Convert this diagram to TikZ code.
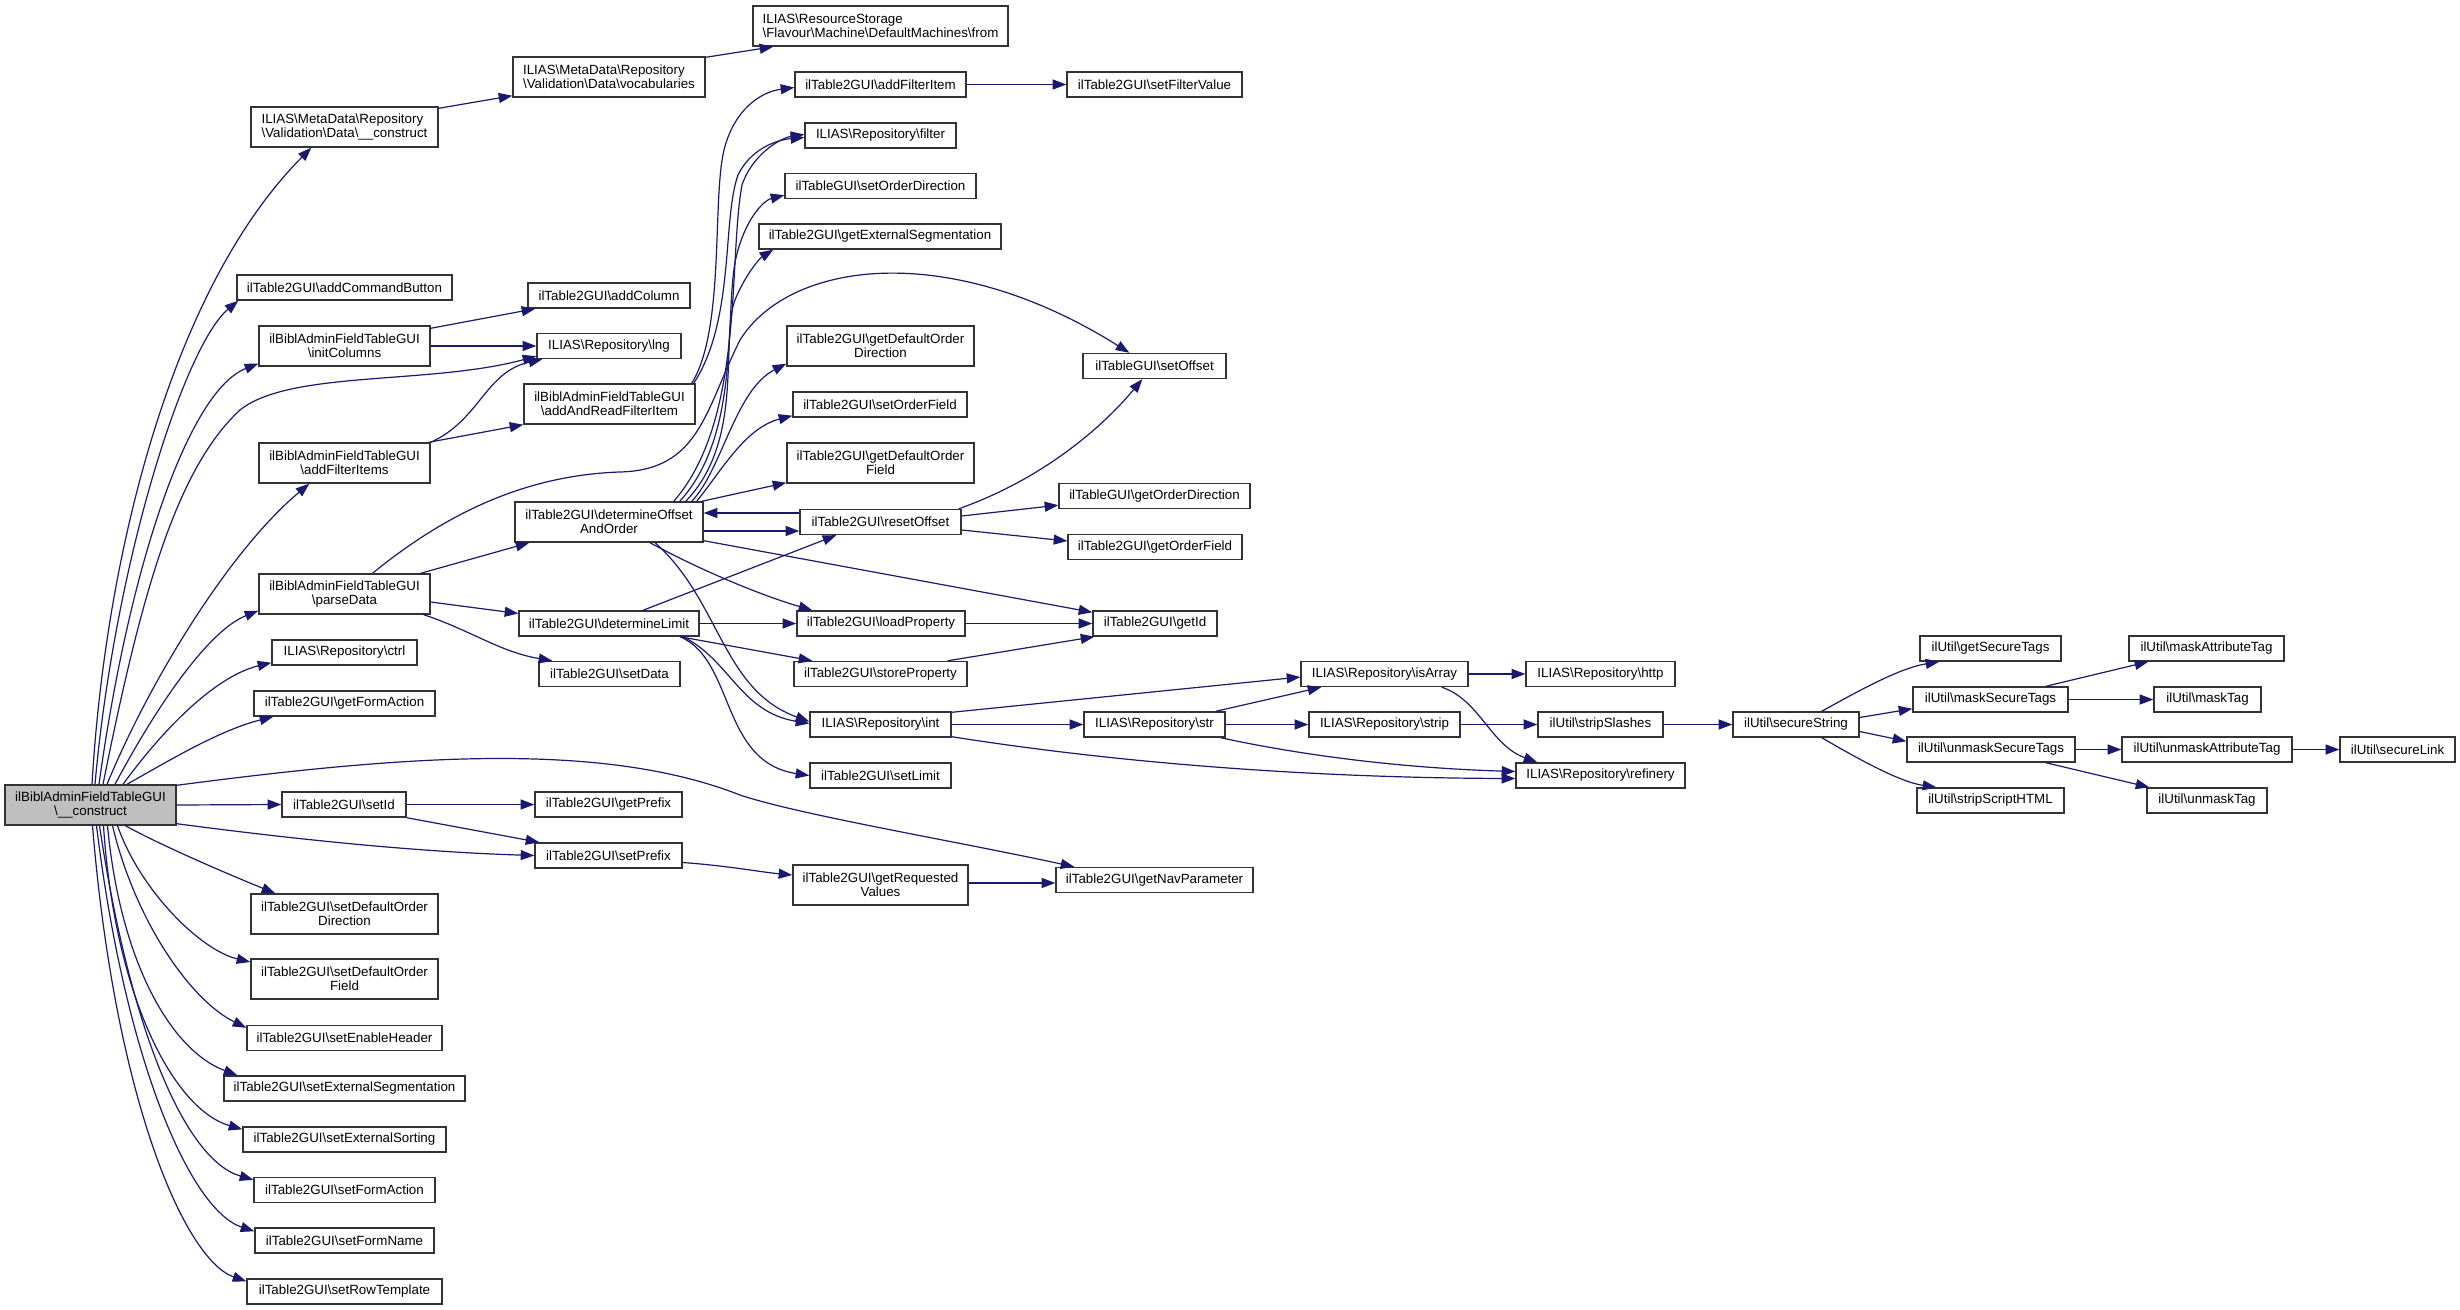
\documentclass[tikz,border=0pt]{standalone}
\usepackage{fontspec}
\setmainfont{Liberation Sans}
\usetikzlibrary{arrows.meta,calc}
\definecolor{navyc}{HTML}{191970}
\definecolor{mainfill}{HTML}{BFBFBF}
\newcommand\bksl{\textbackslash}
\tikzset{
  box/.style={draw=black!80, fill=white, line width=0.7pt, inner sep=0pt,
    minimum height=12.5pt, font=\fontsize{6.67}{7}\selectfont, align=center},
  tall/.style={minimum height=20pt},
  edge/.style={draw=navyc, line width=0.6pt, -{Triangle[length=6.8pt,width=5pt]}},
}
\begin{document}
\begin{tikzpicture}[x=0.5pt,y=-0.5pt]
\fill[white] (0,0) rectangle (2460,1310);
\useasboundingbox (0,0) rectangle (2460,1310);
% column 1
\node[box,tall,fill=mainfill,minimum width=85.5pt] (main) at (90.5,805) {ilBiblAdminFieldTableGUI\\\bksl\_\_construct};
% column 2
\node[box,tall,align=left,minimum width=93.5pt] (mdc) at (344.5,127) {ILIAS\bksl MetaData\bksl Repository\\\bksl Validation\bksl Data\bksl\_\_construct};
\node[box,minimum width=107.5pt] (acb) at (344.5,287.5) {ilTable2GUI\bksl addCommandButton};
\node[box,tall,minimum width=85.5pt] (initcol) at (344.5,346) {ilBiblAdminFieldTableGUI\\\bksl initColumns};
\node[box,tall,minimum width=85.5pt] (afi) at (344.5,463) {ilBiblAdminFieldTableGUI\\\bksl addFilterItems};
\node[box,tall,minimum width=85.5pt] (parse) at (344.5,594) {ilBiblAdminFieldTableGUI\\\bksl parseData};
\node[box,minimum width=72.5pt] (ctrl) at (344.5,652.5) {ILIAS\bksl Repository\bksl ctrl};
\node[box,minimum width=90.5pt] (gfa) at (344.5,703.5) {ilTable2GUI\bksl getFormAction};
\node[box,minimum width=62pt] (setid) at (344,804.5) {ilTable2GUI\bksl setId};
\node[box,tall,minimum width=93.5pt] (sdod) at (344.5,914) {ilTable2GUI\bksl setDefaultOrder\\Direction};
\node[box,tall,minimum width=93.5pt] (sdof) at (344.5,979) {ilTable2GUI\bksl setDefaultOrder\\Field};
\node[box,minimum width=97.5pt] (seh) at (344.5,1038) {ilTable2GUI\bksl setEnableHeader};
\node[box,minimum width=120.5pt] (ses) at (344.5,1088.5) {ilTable2GUI\bksl setExternalSegmentation};
\node[box,minimum width=101.5pt] (sesort) at (344.5,1139.5) {ilTable2GUI\bksl setExternalSorting};
\node[box,minimum width=90.5pt] (sfa) at (344.5,1190) {ilTable2GUI\bksl setFormAction};
\node[box,minimum width=89.5pt] (sfn) at (344.5,1240.5) {ilTable2GUI\bksl setFormName};
\node[box,minimum width=97.5pt] (srt) at (344.5,1291.5) {ilTable2GUI\bksl setRowTemplate};
% column 3
\node[box,tall,align=left,minimum width=96pt] (voc) at (609,77) {ILIAS\bksl MetaData\bksl Repository\\\bksl Validation\bksl Data\bksl vocabularies};
\node[box,minimum width=81pt] (addcol) at (609,295.5) {ilTable2GUI\bksl addColumn};
\node[box,minimum width=72pt] (lng) at (609,346) {ILIAS\bksl Repository\bksl lng};
\node[box,tall,minimum width=85.5pt] (aarfi) at (609.5,404) {ilBiblAdminFieldTableGUI\\\bksl addAndReadFilterItem};
\node[box,tall,minimum width=94pt] (doao) at (609,522) {ilTable2GUI\bksl determineOffset\\AndOrder};
\node[box,minimum width=90pt] (dlim) at (609,623.5) {ilTable2GUI\bksl determineLimit};
\node[box,minimum width=70.5pt] (setdata) at (609.5,674) {ilTable2GUI\bksl setData};
\node[box,minimum width=73.5pt] (getprefix) at (608.5,804.5) {ilTable2GUI\bksl getPrefix};
\node[box,minimum width=73.5pt] (setprefix) at (608.5,855.5) {ilTable2GUI\bksl setPrefix};
% column 4
\node[box,tall,align=left,minimum width=127.5pt] (from) at (880.5,26) {ILIAS\bksl ResourceStorage\\\bksl Flavour\bksl Machine\bksl DefaultMachines\bksl from};
\node[box,minimum width=85.5pt] (addfi) at (880.5,84.5) {ilTable2GUI\bksl addFilterItem};
\node[box,minimum width=75.5pt] (filter) at (880.5,135.5) {ILIAS\bksl Repository\bksl filter};
\node[box,minimum width=95.5pt] (sod) at (880.5,186) {ilTableGUI\bksl setOrderDirection};
\node[box,minimum width=121pt] (ges) at (880,236.5) {ilTable2GUI\bksl getExternalSegmentation};
\node[box,tall,minimum width=93.5pt] (gdod) at (880.5,346) {ilTable2GUI\bksl getDefaultOrder\\Direction};
\node[box,minimum width=87pt] (sof) at (880,404.5) {ilTable2GUI\bksl setOrderField};
\node[box,tall,minimum width=93.5pt] (gdof) at (880.5,463) {ilTable2GUI\bksl getDefaultOrder\\Field};
\node[box,minimum width=80.5pt] (reset) at (880.5,522) {ilTable2GUI\bksl resetOffset};
\node[box,minimum width=84pt] (loadp) at (881,623.5) {ilTable2GUI\bksl loadProperty};
\node[box,minimum width=86.5pt] (storep) at (880.5,674) {ilTable2GUI\bksl storeProperty};
\node[box,minimum width=70.5pt] (int) at (880.5,724.5) {ILIAS\bksl Repository\bksl int};
\node[box,minimum width=70.5pt] (setlimit) at (880.5,775.5) {ilTable2GUI\bksl setLimit};
\node[box,tall,minimum width=87.5pt] (grv) at (880.5,885) {ilTable2GUI\bksl getRequested\\Values};
% column 5
\node[box,minimum width=87.5pt] (sfv) at (1154.5,84.5) {ilTable2GUI\bksl setFilterValue};
\node[box,minimum width=71.5pt] (setoffset) at (1154.5,366) {ilTableGUI\bksl setOffset};
\node[box,minimum width=95.5pt] (god) at (1154.5,496) {ilTableGUI\bksl getOrderDirection};
\node[box,minimum width=87pt] (gof) at (1155,547) {ilTable2GUI\bksl getOrderField};
\node[box,minimum width=62pt] (getid) at (1155,623.5) {ilTable2GUI\bksl getId};
\node[box,minimum width=70.5pt] (str) at (1154.5,724.5) {ILIAS\bksl Repository\bksl str};
\node[box,minimum width=98.5pt] (gnp) at (1154.5,880) {ilTable2GUI\bksl getNavParameter};
% column 6
\node[box,minimum width=83.5pt] (isarray) at (1384.5,674) {ILIAS\bksl Repository\bksl isArray};
\node[box,minimum width=75.5pt] (strip) at (1384.5,724.5) {ILIAS\bksl Repository\bksl strip};
% column 7
\node[box,minimum width=74.5pt] (http) at (1600.5,674) {ILIAS\bksl Repository\bksl http};
\node[box,minimum width=62.5pt] (stripslashes) at (1600.5,724.5) {ilUtil\bksl stripSlashes};
\node[box,minimum width=84.5pt] (refinery) at (1600.5,775.5) {ILIAS\bksl Repository\bksl refinery};
% column 8
\node[box,minimum width=63pt] (securestring) at (1796,724.5) {ilUtil\bksl secureString};
% column 9
\node[box,minimum width=70.5pt] (gst) at (1990.5,648.5) {ilUtil\bksl getSecureTags};
\node[box,minimum width=77.5pt] (mst) at (1990.5,699.5) {ilUtil\bksl maskSecureTags};
\node[box,minimum width=84pt] (ust) at (1991,749.5) {ilUtil\bksl unmaskSecureTags};
\node[box,minimum width=73.5pt] (ssh) at (1990.5,800.5) {ilUtil\bksl stripScriptHTML};
% column 10
\node[box,minimum width=77.5pt] (mat) at (2206.5,648.5) {ilUtil\bksl maskAttributeTag};
\node[box,minimum width=53.5pt] (masktag) at (2207.5,699.5) {ilUtil\bksl maskTag};
\node[box,minimum width=85pt] (uat) at (2207,749.5) {ilUtil\bksl unmaskAttributeTag};
\node[box,minimum width=60pt] (unmasktag) at (2207,800.5) {ilUtil\bksl unmaskTag};
% column 11
\node[box,minimum width=57.5pt] (securelink) at (2397.5,749.5) {ilUtil\bksl secureLink};

% ---- edges from main
\draw[edge] ($(main.north)+(1.5,0)$) .. controls (105,560) and (170,290) .. ($(mdc.south west)+(61,0)$);
\draw[edge] ($(main.north)+(4.5,0)$) .. controls (115,560) and (185,345) .. ($(acb.south west)+(2,0)$);
\draw[edge] ($(main.north)+(8.5,0)$) .. controls (130,560) and (190,390) .. ($(initcol.south west)+(0,-3)$);
\draw[edge] ($(main.north)+(12.5,0)$) .. controls (140,600) and (175,470) .. (240,410) .. controls (290,370) and (430,385) .. ($(lng.south west)+(0,-3)$);
\draw[edge] ($(main.north)+(16.5,0)$) .. controls (150,680) and (230,550) .. ($(afi.south west)+(51,0)$);
\draw[edge] ($(main.north)+(24.5,0)$) .. controls (160,700) and (210,630) .. ($(parse.south west)+(0,-4)$);
\draw[edge] ($(main.north)+(32.5,0)$) .. controls (170,720) and (220,675) .. ($(ctrl.south west)+(0,-3)$);
\draw[edge] ($(main.north)+(36.5,0)$) .. controls (170,760) and (220,730) .. ($(gfa.south west)+(20,0)$);
\draw[edge] ($(main.north east)+(0,1)$) .. controls (400,756) and (600,740) .. (740,795) .. controls (800,815) and (950,840) .. ($(gnp.north west)+(19,0)$);
\draw[edge] (main.east) -- (setid.west);
\draw[edge] ($(main.south east)+(0,-2)$) .. controls (300,840) and (420,852) .. (setprefix.west);
\draw[edge] ($(main.south)+(35,0)$) .. controls (160,845) and (230,875) .. ($(sdod.north west)+(25,0)$);
\draw[edge] ($(main.south)+(27,0)$) .. controls (140,890) and (200,950) .. ($(sdof.west)+(0,-17)$);
\draw[edge] ($(main.south)+(22,0)$) .. controls (135,920) and (190,1000) .. ($(seh.north west)+(0,3)$);
\draw[edge] ($(main.south)+(17,0)$) .. controls (120,960) and (170,1050) .. ($(ses.north west)+(14,0)$);
\draw[edge] ($(main.south)+(13,0)$) .. controls (115,1000) and (175,1110) .. ($(sesort.north west)+(0,3)$);
\draw[edge] ($(main.south)+(9,0)$) .. controls (130,1030) and (185,1160) .. ($(sfa.north west)+(0,3)$);
\draw[edge] ($(main.south)+(6,0)$) .. controls (125,1060) and (190,1210) .. ($(sfn.north west)+(0,4)$);
\draw[edge] ($(main.south)+(2,0)$) .. controls (115,1100) and (185,1260) .. ($(srt.north west)+(0,3)$);

% ---- upper part
\draw[edge] ($(mdc.north east)+(0,2)$) -- ($(voc.south west)+(0,-2)$);
\draw[edge] ($(voc.north east)+(0,1)$) -- ($(from.south west)+(21,0)$);
\draw[edge] ($(initcol.north east)+(0,3)$) -- ($(addcol.south west)+(8,0)$);
\draw[edge] (initcol.east) -- (lng.west);
\draw[edge] (afi.north east) .. controls (480,420) and (485,372) .. ($(lng.south west)+(6,0)$);
\draw[edge] ($(afi.north east)+(-2,0)$) -- (aarfi.south west);
\draw[edge] ($(aarfi.north east)+(-4,0)$) .. controls (725,330) and (712,200) .. (724,150) .. controls (734,110) and (760,92) .. ($(addfi.west)+(0,3)$);
\draw[edge] ($(aarfi.north east)+(-2,0)$) .. controls (735,320) and (722,220) .. (738,175) .. controls (750,150) and (775,140) .. ($(filter.west)+(0,2)$);
\draw[edge] (addfi.east) -- (sfv.west);

% ---- determineOffsetAndOrder
\draw[edge] ($(doao.north east)+(-30,0)$) .. controls (745,420) and (728,260) .. (742,185) .. controls (752,155) and (780,138) .. ($(filter.west)+(0,-1)$);
\draw[edge] ($(doao.north east)+(-24,0)$) .. controls (745,430) and (722,300) .. (738,250) .. controls (748,215) and (765,200) .. ($(sod.south west)+(0,-4)$);
\draw[edge] ($(doao.north east)+(-18,0)$) .. controls (745,440) and (720,340) .. (735,300) .. controls (745,275) and (760,258) .. ($(ges.south west)+(15,0)$);
\draw[edge] ($(doao.north east)+(-12,0)$) .. controls (722,470) and (735,390) .. ($(gdod.south west)+(0,-3)$);
\draw[edge] ($(doao.north east)+(-7,0)$) .. controls (722,470) and (745,428) .. ($(sof.south west)+(0,-2)$);
\draw[edge] ($(doao.north east)+(-2,0)$) -- ($(gdof.south west)+(0,-1)$);
\draw[edge] ($(reset.west)+(0,-9)$) -- ($(doao.east)+(0,-9)$);
\draw[edge] ($(doao.east)+(0,9)$) -- ($(reset.west)+(0,9)$);
\draw[edge] ($(doao.south east)+(0,-2)$) -- ($(getid.north west)+(0,2)$);
\draw[edge] ($(doao.south)+(41,0)$) .. controls (700,570) and (760,595) .. ($(loadp.north west)+(16,0)$);
\draw[edge] ($(doao.south)+(46,0)$) .. controls (720,600) and (722,690) .. ($(int.west)+(0,-3)$);

% ---- determineLimit
\draw[edge] ($(dlim.north)+(34,0)$) -- ($(reset.south west)+(37,0)$);
\draw[edge] (dlim.east) -- (loadp.west);
\draw[edge] ($(dlim.south)+(71,0)$) -- ($(storep.north west)+(19,0)$);
\draw[edge] ($(dlim.south)+(74,0)$) .. controls (730,660) and (740,712) .. ($(int.west)+(0,-1)$);
\draw[edge] ($(dlim.south)+(71,0)$) .. controls (735,660) and (720,762) .. (setlimit.west);

% ---- parseData
\draw[edge] ($(parse.north east)+(-10,0)$) -- ($(doao.south west)+(15,0)$);
\draw[edge] ($(parse.east)+(0,8)$) -- ($(dlim.west)+(0,-10)$);
\draw[edge] ($(parse.south east)+(-7,0)$) .. controls (470,630) and (500,652) .. ($(setdata.north west)+(14,0)$);
\draw[edge] ($(parse.north)+(28,0)$) .. controls (450,510) and (530,475) .. (620,472) .. controls (700,470) and (705,410) .. (740,340) .. controls (790,260) and (950,240) .. ($(setoffset.north west)+(47,0)$);

% ---- resetOffset etc.
\draw[edge] ($(reset.north east)+(-3,0)$) .. controls (1040,480) and (1100,430) .. ($(setoffset.south west)+(60,0)$);
\draw[edge] ($(reset.east)+(0,-6)$) -- ($(god.south west)+(0,-4)$);
\draw[edge] ($(reset.east)+(0,8)$) -- ($(gof.west)+(0,-6)$);
\draw[edge] (loadp.east) -- (getid.west);
\draw[edge] ($(storep.north east)+(-20,0)$) -- ($(getid.south west)+(2,0)$);

% ---- Repository int / str
\draw[edge] ($(int.north east)+(0,1)$) -- ($(isarray.west)+(0,3)$);
\draw[edge] (int.east) -- (str.west);
\draw[edge] ($(int.south east)+(0,-1)$) .. controls (1150,768) and (1350,778) .. ($(refinery.west)+(0,3)$);
\draw[edge] ($(str.north east)+(-10,0)$) -- ($(isarray.south west)+(21,0)$);
\draw[edge] (str.east) -- (strip.west);
\draw[edge] ($(str.south east)+(-5,0)$) .. controls (1300,755) and (1400,768) .. ($(refinery.west)+(0,-4)$);
\draw[edge] (isarray.east) -- (http.west);
\draw[edge] ($(isarray.south east)+(-27,0)$) .. controls (1480,700) and (1490,745) .. ($(refinery.north west)+(22,0)$);
\draw[edge] (strip.east) -- (stripslashes.west);
\draw[edge] (stripslashes.east) -- (securestring.west);

% ---- ilUtil
\draw[edge] ($(securestring.north east)+(-38,0)$) .. controls (1860,690) and (1900,668) .. ($(gst.south west)+(20,0)$);
\draw[edge] ($(securestring.east)+(0,-7)$) -- ($(mst.south west)+(0,-4)$);
\draw[edge] ($(securestring.east)+(0,7)$) -- ($(ust.north west)+(0,5)$);
\draw[edge] ($(securestring.south east)+(-38,0)$) .. controls (1860,760) and (1900,782) .. ($(ssh.north west)+(20,0)$);
\draw[edge] ($(mst.north east)+(-23,0)$) -- ($(mat.south west)+(20,0)$);
\draw[edge] (mst.east) -- (masktag.west);
\draw[edge] (ust.east) -- (uat.west);
\draw[edge] ($(ust.south east)+(-30,0)$) -- ($(unmasktag.north west)+(3,0)$);
\draw[edge] (uat.east) -- (securelink.west);

% ---- setId / setPrefix
\draw[edge] (setid.east) -- (getprefix.west);
\draw[edge] (setid.south east) -- ($(setprefix.north west)+(5,0)$);
\draw[edge] ($(setprefix.east)+(0,7)$) .. controls (730,866) and (760,872) .. ($(grv.west)+(0,-10)$);
\draw[edge] ($(grv.east)+(0,-2)$) -- ($(gnp.west)+(0,3)$);
\end{tikzpicture}
\end{document}
